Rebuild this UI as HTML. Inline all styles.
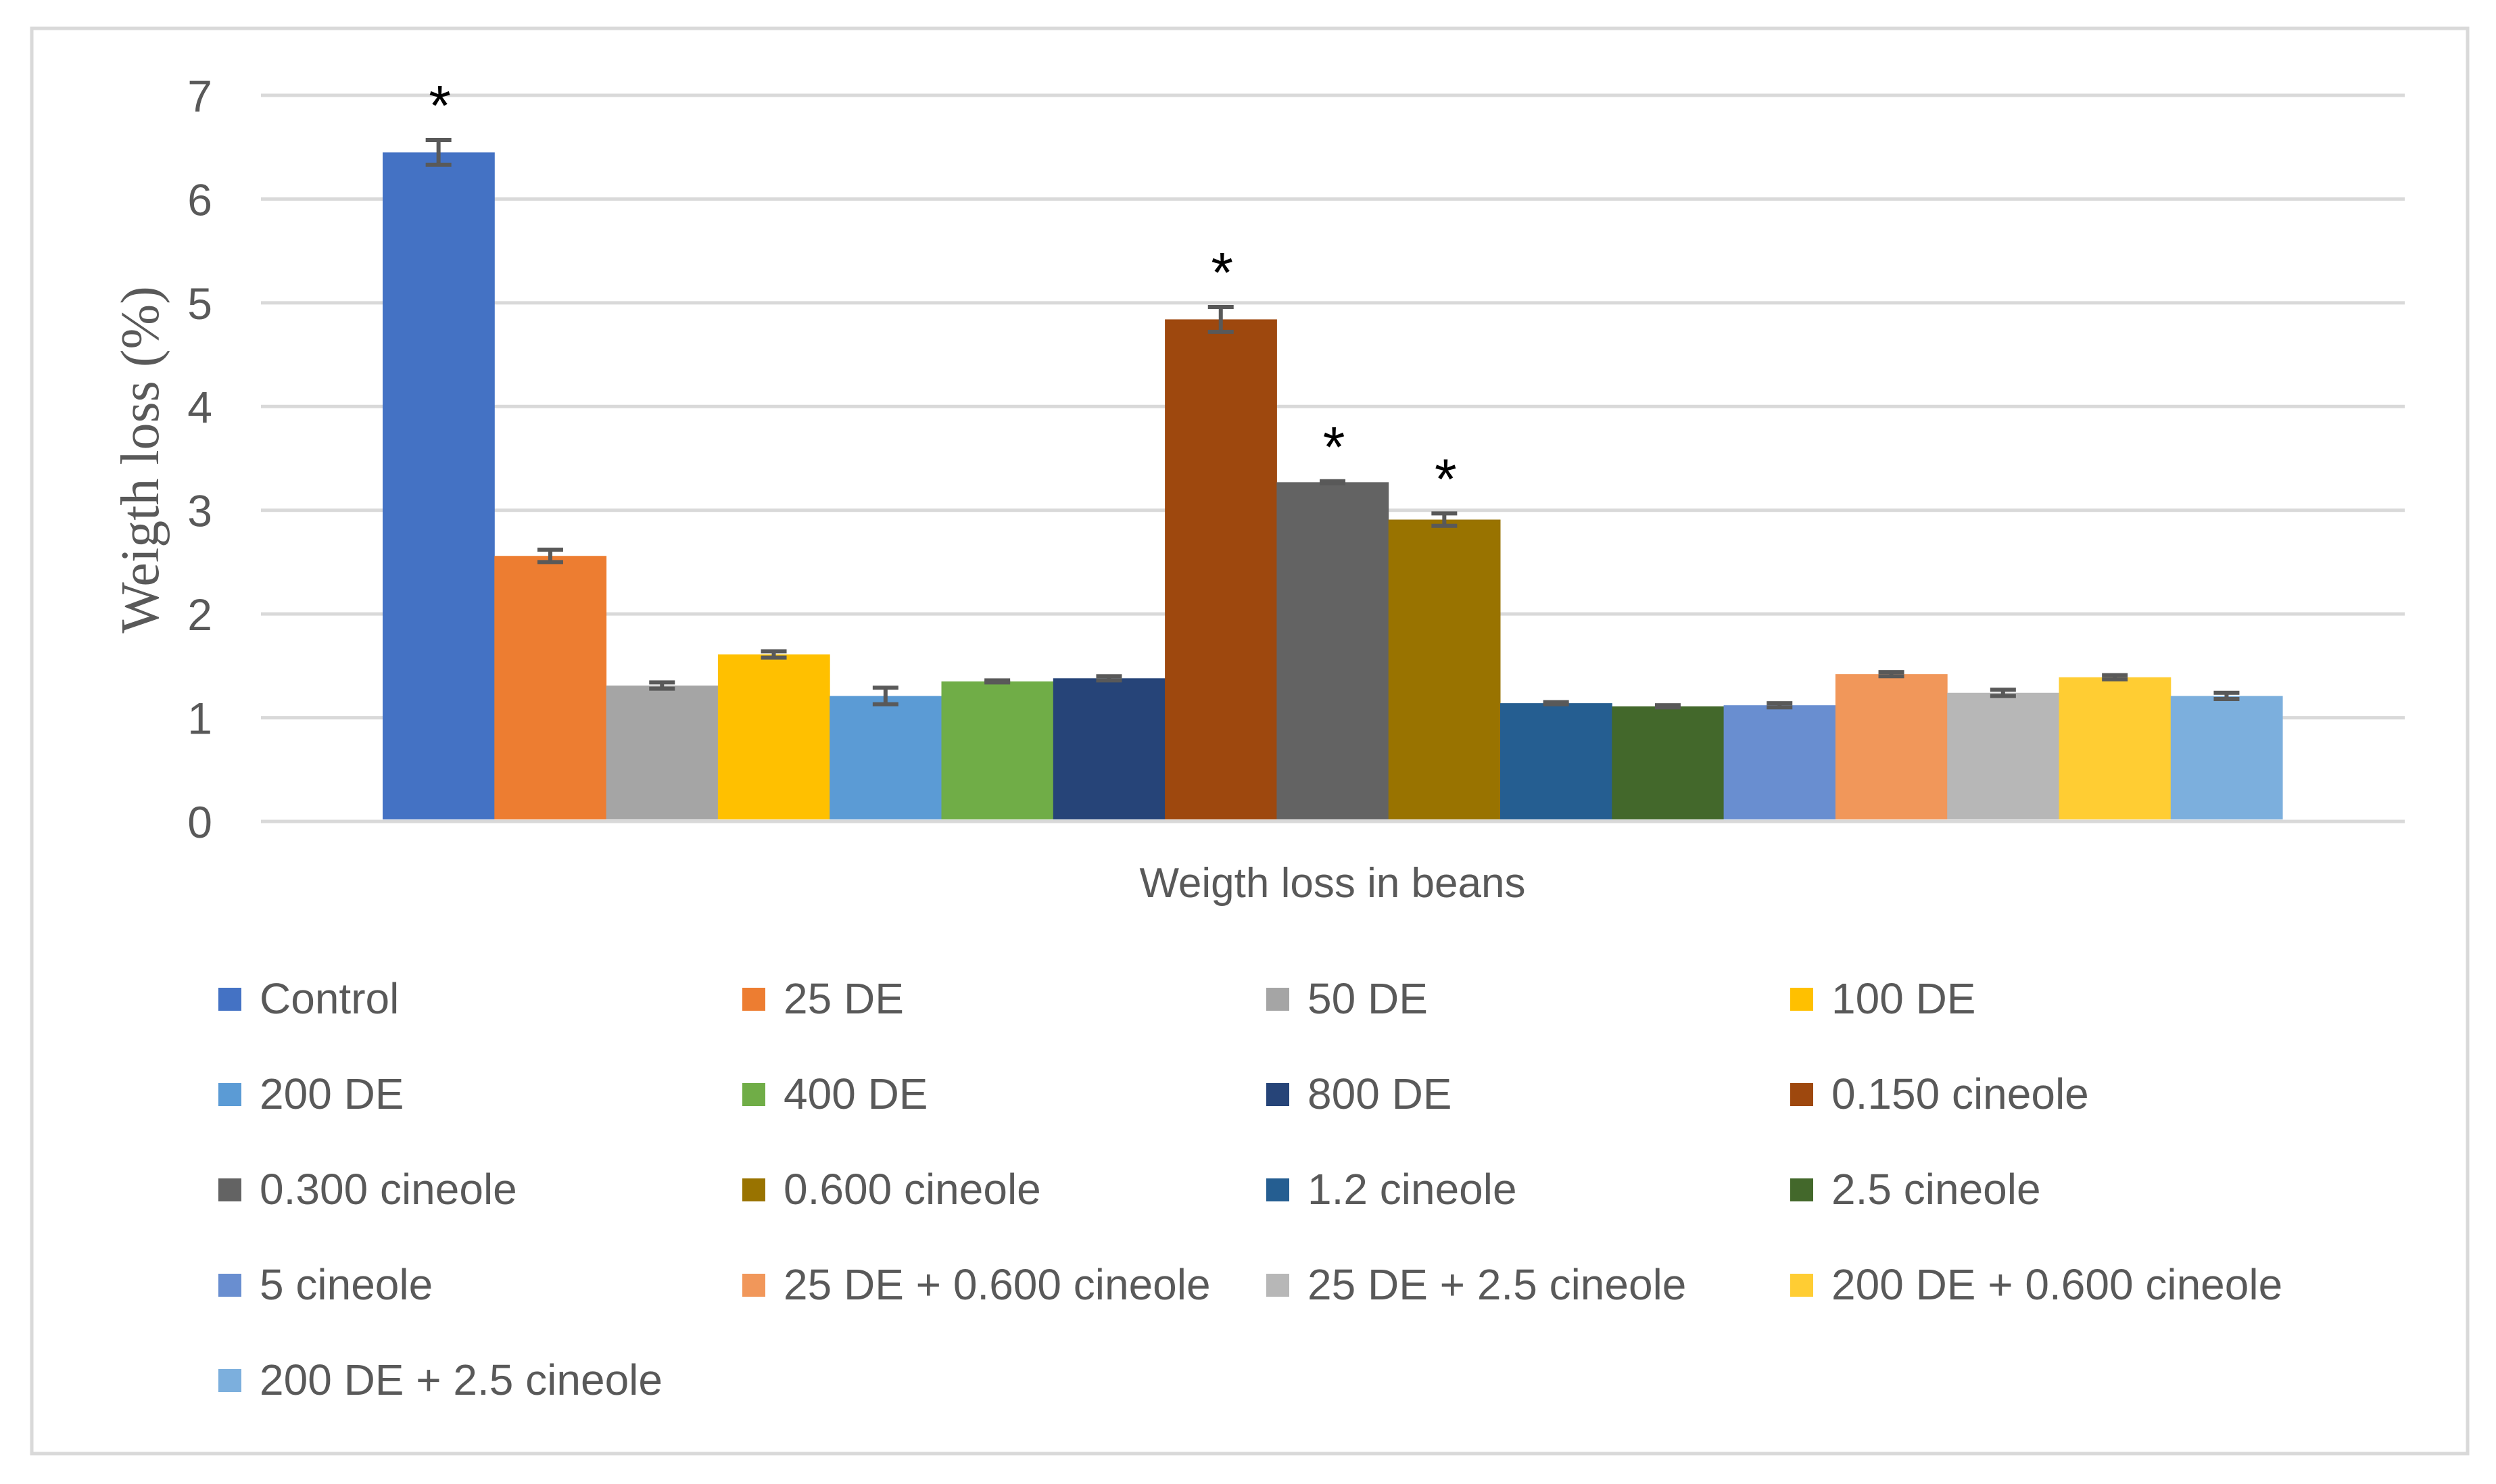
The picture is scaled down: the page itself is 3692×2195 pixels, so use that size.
<!DOCTYPE html>
<html><head><meta charset="utf-8"><style>
body{margin:0;background:#fff;}
svg{display:block;}
</style></head><body>
<svg id="chart" width="3692" height="2195" viewBox="0 0 3692 2195" xmlns="http://www.w3.org/2000/svg">
<rect x="47" y="42" width="3603" height="2108" fill="#fff" stroke="#d9d9d9" stroke-width="5"/>
<g id="grid"></g><g id="bars"></g><g id="legend"></g>
<text x="0" y="0" transform="translate(234,680) rotate(-90)" text-anchor="middle" font-family="Liberation Serif, serif" font-size="80" fill="#595959">Weigth loss (%)</text>
<text x="1971" y="1327" text-anchor="middle" font-family="Liberation Sans, sans-serif" font-size="62" fill="#595959">Weigth loss in beans</text>
</svg>
<script>
const categories=["Control","25 DE","50 DE","100 DE","200 DE","400 DE","800 DE","0.150 cineole","0.300 cineole","0.600 cineole","1.2 cineole","2.5 cineole","5 cineole","25 DE + 0.600 cineole","25 DE + 2.5 cineole","200 DE + 0.600 cineole","200 DE + 2.5 cineole"];
const values=[6.45,2.56,1.31,1.61,1.21,1.35,1.38,4.84,3.27,2.91,1.14,1.11,1.12,1.42,1.24,1.39,1.21];
const errors=[0.12,0.06,0.03,0.03,0.08,0.01,0.02,0.12,0.01,0.06,0.01,0.01,0.02,0.02,0.03,0.02,0.03];
const significant=[true,false,false,false,false,false,false,true,true,true,false,false,false,false,false,false,false];
const colors=["#4472c4","#ed7d31","#a5a5a5","#ffc000","#5b9bd5","#70ad47","#264478","#9e480e","#636363","#997300","#255e91","#43682b","#698ed0","#f1975a","#b7b7b7","#ffcd33","#7cafdd"];
const yTicks=[0,1,2,3,4,5,6,7];
const NS="http://www.w3.org/2000/svg";
const yMin=0,yMax=7,py0=1215,py1=141,gx0=386,gx1=3557,bx0=566,bw=165.3;
function y(v){return py0+(v-yMin)/(yMax-yMin)*(py1-py0);}
function x(i){return bx0+i*bw;}
function mk(tag,attrs,parent){const e=document.createElementNS(NS,tag);for(const k in attrs)e.setAttribute(k,attrs[k]);parent.appendChild(e);return e;}
const grid=document.getElementById('grid'),bars=document.getElementById('bars'),legend=document.getElementById('legend');
yTicks.forEach(t=>{
 const l=mk('line',{x1:gx0,x2:gx1,y1:y(t),y2:y(t),stroke:'#d9d9d9','stroke-width':5},grid);
 
 
 const tx=mk('text',{x:314,y:y(t)+24,'text-anchor':'end','font-family':'Liberation Sans, sans-serif','font-size':66,fill:'#595959'},grid);
 tx.textContent=t;
 
 
});
values.forEach((v,i)=>{
 const r=mk('rect',{x:x(i),y:y(v),width:bw+0.5,height:y(0)-y(v)-3,fill:colors[i]},bars);
 
 
 const cx=x(i)+bw/2,e=errors[i];
 const g=mk('g',{stroke:'#595959','stroke-width':6},bars);
 
 
 mk('line',{x1:cx,x2:cx,y1:y(v+e),y2:y(v-e)},g);
 mk('line',{x1:cx-19,x2:cx+19,y1:y(v+e),y2:y(v+e)},g);
 mk('line',{x1:cx-19,x2:cx+19,y1:y(v-e),y2:y(v-e)},g);
 if(significant[i]){
  const s=mk('text',{x:cx+2,y:y(v+e)-22,'text-anchor':'middle','font-family':'Liberation Sans, sans-serif','font-size':84,fill:'#000'},bars);
  s.textContent='*';
  
  
 }
});
categories.forEach((c,i)=>{
 const col=i%4,row=Math.floor(i/4);
 const lx=323+col*775,ly=1478+row*141;
 const g=mk('g',{},legend);
 
 
 mk('rect',{x:lx,y:ly-17,width:34,height:34,fill:colors[i]},g);
 const t=mk('text',{x:lx+61,y:ly+21,'font-family':'Liberation Sans, sans-serif','font-size':64,fill:'#595959'},g);
 t.textContent=c;
});
</script>
</body></html>
